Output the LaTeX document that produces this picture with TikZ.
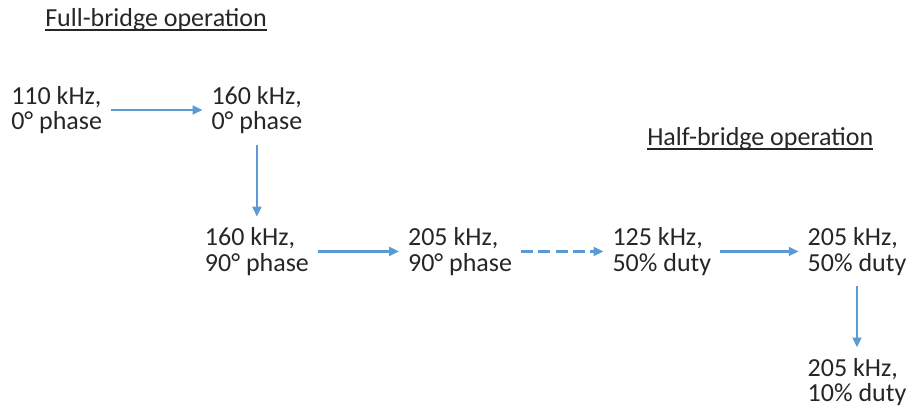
\documentclass[tikz,border=0pt]{standalone}
\usepackage{fontspec}
\setmainfont{Carlito}
\usetikzlibrary{arrows.meta,positioning}
\definecolor{flowblue}{HTML}{5B9BD5}
\definecolor{textgray}{HTML}{262626}

\begin{document}
\begin{tikzpicture}[
            >={Triangle[length=7.5pt,width=6.5pt]},
            state/.style={align=left,inner xsep=6.5pt,inner ysep=8pt,
                          font=\fontsize{19.5}{19}\selectfont,text=textgray},
            title/.style={inner sep=0pt,anchor=base west,
                          font=\fontsize{19.5}{19}\selectfont,text=textgray},
            uline/.style={draw=textgray,line width=0.9pt},
            line/.style={->,draw=flowblue,line width=2pt},
            dline/.style={line,dash pattern=on 9pt off 4pt}
        ]
        \useasboundingbox (0,0) rectangle (681.75pt,-308.25pt);
        % full-bridge states
        \node[state,anchor=west] (f110) at (1.75pt,-82.5pt) {110 kHz,\\0° phase};
        \node[state,right=68.75pt of f110] (f160) {160 kHz,\\0° phase};
        \node[state,below=54pt of f160] (f160p) {160 kHz,\\90° phase};
        \node[state,right=61pt of f160p] (f205p) {205 kHz,\\90° phase};
        % half-bridge states
        \node[state,right=62pt of f205p] (h125) {125 kHz,\\50\% duty};
        \node[state,right=59pt of h125] (h205) {205 kHz,\\50\% duty};
        \node[state,below=46pt of h205] (h205d) {205 kHz,\\10\% duty};
        % titles
        \node[title] (fbt) at (33.75pt,-20pt) {Full-bridge operation};
        \node[title] (hbt) at (485.25pt,-108.75pt) {Half-bridge operation};
        \draw[uline] ([yshift=-2.5pt]fbt.base west) -- ([yshift=-2.5pt]fbt.base east);
        \draw[uline] ([yshift=-3pt]hbt.base west) -- ([yshift=-3pt]hbt.base east);
        % transitions
        \draw[line] (f110) -- (f160);
        \draw[line] (f160) -- (f160p);
        \draw[line] (f160p) -- (f205p);
        \draw[dline] (f205p) -- (h125);
        \draw[line] (h125) -- (h205);
        \draw[line] (h205) -- (h205d);
        \end{tikzpicture}
\end{document}
